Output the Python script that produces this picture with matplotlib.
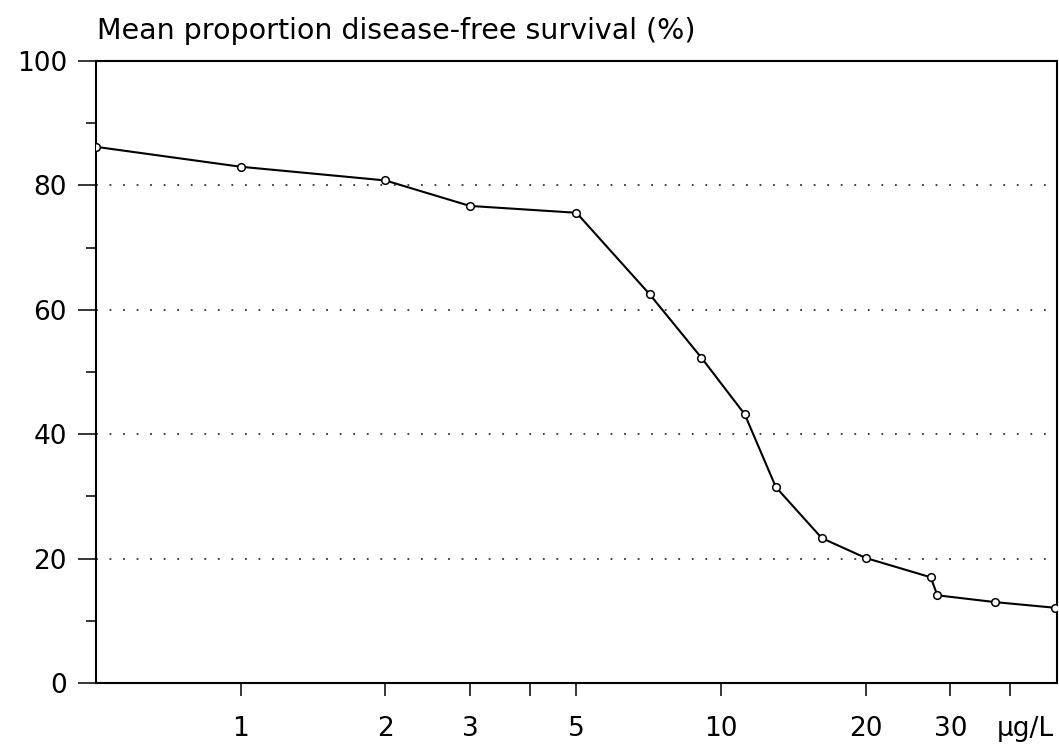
import numpy as np
import matplotlib.pyplot as plt
from matplotlib.ticker import FixedLocator, NullFormatter

plt.rcParams['font.family'] = ['DejaVu Sans']

# concentration (ug/L) and mean disease-free survival (%)
conc = [0.5, 1, 2, 3, 5, 7.1, 9.1, 11.2, 13.0, 16.2, 20.0, 27.3, 28.2, 37.2, 49.5]
survival = [86.2, 83.0, 80.8, 76.7, 75.6, 62.5, 52.3, 43.2, 31.5, 23.3, 20.1, 17.0, 14.1, 13.0, 12.1]

xticks = [1, 2, 3, 4, 5, 10, 20, 30, 40]
xticklabels = ['1', '2', '3', '', '5', '10', '20', '30', '']
yticks = [0, 20, 40, 60, 80, 100]

fig = plt.figure(figsize=(10.59, 7.44), dpi=100)
ax = fig.add_axes([0.0907, 0.082, 0.9073, 0.836])

ax.plot(conc, survival, color='black', linewidth=1.5, marker='o', markersize=5.5,
        markerfacecolor='white', markeredgecolor='black', markeredgewidth=1.1, zorder=3)

ax.set_xscale('log')
ax.set_xlim(0.5, 50)
ax.set_ylim(0, 100)

ax.xaxis.set_major_locator(FixedLocator(xticks))
ax.set_xticklabels(xticklabels)
ax.xaxis.set_minor_locator(FixedLocator([]))
ax.xaxis.set_minor_formatter(NullFormatter())
ax.set_yticks(yticks)
ax.set_yticks(range(10, 100, 20), minor=True)

ax.tick_params(axis='x', which='major', direction='out', length=9, width=1.1, pad=15, labelsize=19)
ax.tick_params(axis='y', which='major', direction='out', length=13, width=1.1, pad=8, labelsize=19)
ax.tick_params(axis='y', which='minor', direction='out', length=7, width=1.1)

for v in [20, 40, 60, 80]:
    ax.axhline(v, color='#333333', linewidth=1.3, linestyle=(0, (1, 6.5)), zorder=1)

for s in ax.spines.values():
    s.set_linewidth(1.5)

ax.annotate('μg/L', xy=(43, 0), xycoords=('data', 'axes fraction'), xytext=(0, -24),
            textcoords='offset points', ha='center', va='top', fontsize=19)
fig.text(0.092, 0.958, 'Mean proportion disease-free survival (%)', ha='left', va='center',
         fontsize=20.5)

fig.savefig('out.png', dpi=100)
